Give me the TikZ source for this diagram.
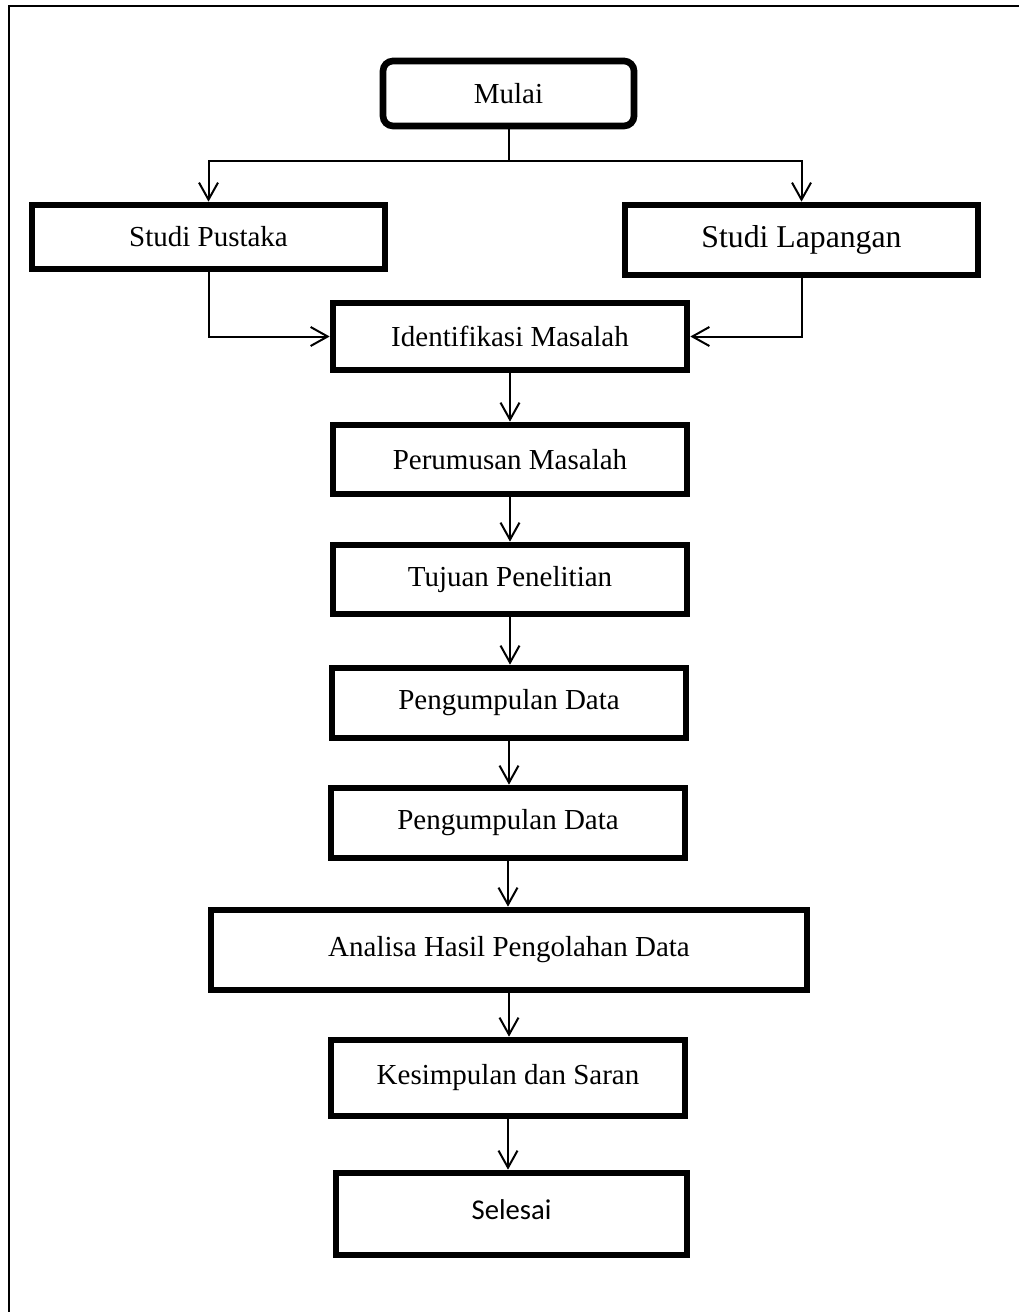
\documentclass[tikz,border=0pt]{standalone}
\usepackage{fontspec}
\setmainfont{Liberation Serif}
\newfontfamily\calibrifont{Carlito}
\usetikzlibrary{arrows.meta}

\tikzset{every picture/.style={line width=1.5pt}}
\tikzset{
  prosesbox/.style={draw, line width=5pt, rectangle, inner sep=0pt,
    minimum width=265.5pt, minimum height=51.75pt, align=center,
    font=\fontsize{21.75pt}{26pt}\selectfont},
  arrowv/.style={-{Straight Barb[length=12.75pt,width=14.25pt,line width=1.5pt]}}
}

\begin{document}
\begin{tikzpicture}[x=0.75pt,y=0.75pt,yscale=-1,xscale=1]
\useasboundingbox (0,0) rectangle (1019,1312);

%Frame
\draw [line width=1.8pt]  (9,1312) -- (9,6) -- (1019,6) ;

%Rounded Rect
\draw (508.5,93.5) node [prosesbox, rounded corners=7.5pt, minimum width=188.25pt, minimum height=48.75pt] (mulai) {Mulai};
%Flowchart: Process
\draw (208.5,237) node [prosesbox, minimum width=264.75pt, minimum height=48pt] (pustaka) {Studi Pustaka};
%Flowchart: Process
\draw (801.5,240) node [prosesbox, minimum width=264.75pt, minimum height=52.5pt, font=\fontsize{23.8pt}{28pt}\selectfont] (lapangan) {Studi Lapangan};
%Flowchart: Process
\draw (510,336.5) node [prosesbox, minimum height=50.25pt] (identifikasi) {Identifikasi Masalah};
%Flowchart: Process
\draw (510,459.5) node [prosesbox] (perumusan) {Perumusan Masalah};
%Flowchart: Process
\draw (510,579.5) node [prosesbox] (tujuan) {Tujuan Penelitian};
%Flowchart: Process
\draw (509,703) node [prosesbox, minimum height=52.5pt] (kumpul) {Pengumpulan Data};
%Flowchart: Process
\draw (508,823) node [prosesbox, minimum height=52.5pt] (kumpulb) {Pengumpulan Data};
%Flowchart: Process
\draw (509,950) node [prosesbox, minimum width=447pt, minimum height=60pt] (analisa) {\raisebox{4pt}{Analisa Hasil Pengolahan Data}};
%Flowchart: Process
\draw (508,1078) node [prosesbox, minimum height=57pt] (kesimpulan) {\raisebox{2pt}{Kesimpulan dan Saran}};
%Flowchart: Process
\draw (511.5,1214) node [prosesbox, minimum width=263.25pt, minimum height=61.5pt, font=\calibrifont\fontsize{21.5pt}{26pt}\selectfont] (selesai) {\raisebox{6pt}{Selesai}};

%Straight Lines
\coordinate (cabang) at (509,161);
\draw    (mulai.south) -- (mulai.south |- cabang) ;
\draw [arrowv]   (cabang) -| (pustaka.north) ;
\draw [arrowv]   (cabang) -| (lapangan.north) ;
\draw [arrowv]   (pustaka.south) |- (identifikasi.west) ;
\draw [arrowv]   (lapangan.south) |- (identifikasi.east) ;
\draw [arrowv]   (identifikasi.south) -- (identifikasi.south |- perumusan.north) ;
\draw [arrowv]   (perumusan.south) -- (perumusan.south |- tujuan.north) ;
\draw [arrowv]   (tujuan.south) -- (tujuan.south |- kumpul.north) ;
\draw [arrowv]   (kumpul.south) -- (kumpul.south |- kumpulb.north) ;
\draw [arrowv]   (kumpulb.south) -- (kumpulb.south |- analisa.north) ;
\draw [arrowv]   (analisa.south) -- (analisa.south |- kesimpulan.north) ;
\draw [arrowv]   (kesimpulan.south) -- (kesimpulan.south |- selesai.north) ;

\end{tikzpicture}
\end{document}
